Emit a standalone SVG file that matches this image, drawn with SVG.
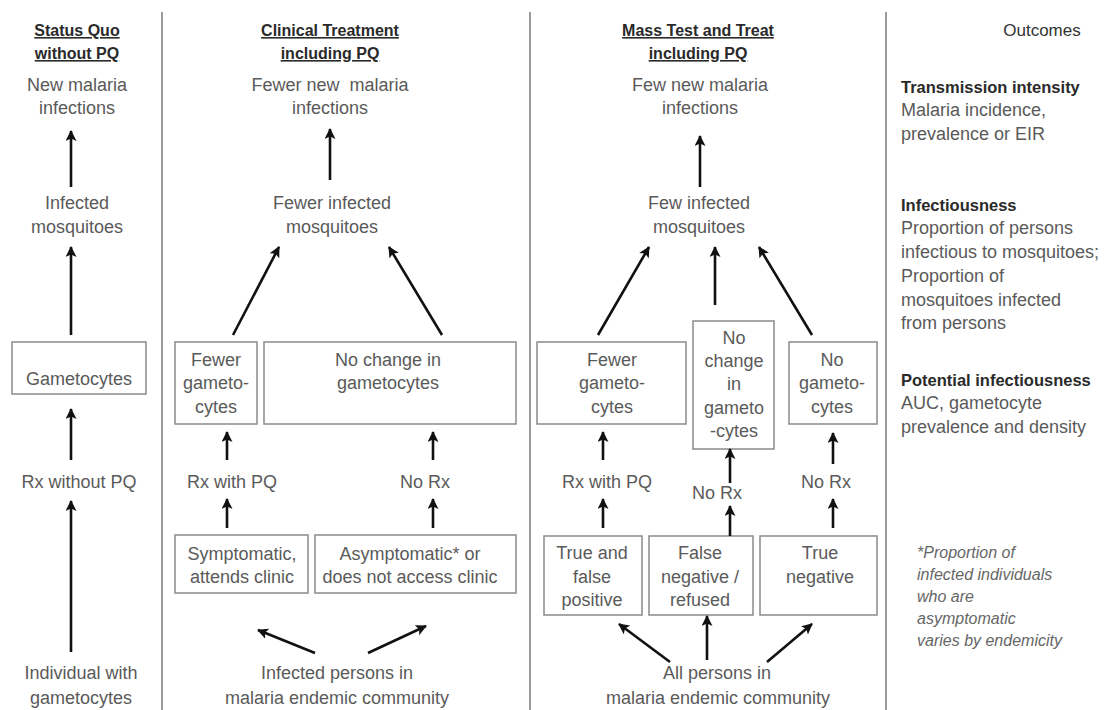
<svg xmlns="http://www.w3.org/2000/svg" width="1105" height="710" viewBox="0 0 1105 710">
<defs>
<marker id="ah" viewBox="0 0 11 11" refX="10" refY="5.5" markerWidth="11" markerHeight="11" markerUnits="userSpaceOnUse" orient="auto">
<path d="M0,0 L11,5.5 L0,11 L2.5,5.5 z" fill="#111"/>
</marker>
<style>
text{font-family:"Liberation Sans",Arial,sans-serif;font-size:18px;fill:#5a5a5a;}
.c{text-anchor:middle;}
.h{font-weight:bold;font-size:16px;fill:#2a2a2a;text-decoration:underline;}
.b{font-weight:bold;font-size:16.5px;fill:#2a2a2a;}
.o{font-size:17px;fill:#333;}
.i{font-style:italic;font-size:16px;fill:#666;}
.box{fill:#fff;stroke:#8a8a8a;stroke-width:1.5;}
.sep{stroke:#9a9a9a;stroke-width:2;}
.ar{stroke:#111;stroke-width:2.6;fill:none;marker-end:url(#ah);}
</style>
</defs>
<rect width="1105" height="710" fill="#fff"/>
<g id="separators">
<line class="sep" x1="162" y1="12" x2="162" y2="710"/>
<line class="sep" x1="530" y1="12" x2="530" y2="710"/>
<line class="sep" x1="886" y1="12" x2="886" y2="710"/>
</g>
<g id="headers">
<text class="h c" x="77" y="36">Status Quo</text>
<text class="h c" x="77" y="59">without PQ</text>
<text class="h c" x="330" y="36">Clinical Treatment</text>
<text class="h c" x="330" y="59">including PQ</text>
<text class="h c" x="698" y="36">Mass Test and Treat</text>
<text class="h c" x="698" y="59">including PQ</text>
<text class="o c" x="1042" y="36">Outcomes</text>
</g>
<g id="sq-new-infections"><text class="c" x="77" y="91">New malaria</text><text class="c" x="77" y="114">infections</text></g>
<g id="sq-infected-mosquitoes"><text class="c" x="77" y="209">Infected</text><text class="c" x="77" y="233">mosquitoes</text></g>
<g id="sq-gametocytes"><rect class="box" x="12" y="342" width="134" height="52"/><text class="c" x="79" y="385">Gametocytes</text></g>
<g id="sq-rx"><text class="c" x="79" y="488">Rx without PQ</text></g>
<g id="sq-individual"><text class="c" x="81" y="679">Individual with</text><text class="c" x="81" y="704">gametocytes</text></g>

<g id="ct-new-infections"><text class="c" x="330" y="91" xml:space="preserve">Fewer new  malaria</text><text class="c" x="330" y="114">infections</text></g>
<g id="ct-infected-mosquitoes"><text class="c" x="332" y="209">Fewer infected</text><text class="c" x="332" y="233">mosquitoes</text></g>
<g id="ct-fewer-gam"><rect class="box" x="175" y="342" width="82" height="82"/><text class="c" x="216" y="366">Fewer</text><text class="c" x="216" y="389">gameto-</text><text class="c" x="216" y="413">cytes</text></g>
<g id="ct-nochange-gam"><rect class="box" x="264" y="342" width="252" height="82"/><text class="c" x="388" y="366">No change in</text><text class="c" x="388" y="389">gametocytes</text></g>
<g id="ct-rx-pq"><text class="c" x="232" y="488">Rx with PQ</text></g>
<g id="ct-no-rx"><text class="c" x="425" y="488">No Rx</text></g>
<g id="ct-symptomatic"><rect class="box" x="175" y="535" width="133" height="58"/><text class="c" x="242" y="560">Symptomatic,</text><text class="c" x="242" y="583">attends clinic</text></g>
<g id="ct-asymptomatic"><rect class="box" x="315" y="535" width="201" height="58"/><text class="c" x="410" y="560">Asymptomatic* or</text><text class="c" x="410" y="583">does not access clinic</text></g>
<g id="ct-infected-persons"><text class="c" x="337" y="679">Infected persons in</text><text class="c" x="337" y="704">malaria endemic community</text></g>

<g id="mt-new-infections"><text class="c" x="700" y="91">Few new malaria</text><text class="c" x="700" y="114">infections</text></g>
<g id="mt-infected-mosquitoes"><text class="c" x="699" y="209">Few infected</text><text class="c" x="699" y="233">mosquitoes</text></g>
<g id="mt-fewer-gam"><rect class="box" x="537" y="342" width="149" height="82"/><text class="c" x="612" y="366">Fewer</text><text class="c" x="612" y="389">gameto-</text><text class="c" x="612" y="413">cytes</text></g>
<g id="mt-nochange-gam"><rect class="box" x="693" y="321" width="81" height="128"/><text class="c" x="734" y="344">No</text><text class="c" x="734" y="367">change</text><text class="c" x="734" y="390">in</text><text class="c" x="734" y="414">gameto</text><text class="c" x="734" y="437">-cytes</text></g>
<g id="mt-no-gam"><rect class="box" x="789" y="342" width="88" height="82"/><text class="c" x="832" y="366">No</text><text class="c" x="832" y="389">gameto-</text><text class="c" x="832" y="413">cytes</text></g>
<g id="mt-rx-pq"><text class="c" x="607" y="488">Rx with PQ</text></g>
<g id="mt-no-rx-1"><text class="c" x="717" y="499">No Rx</text></g>
<g id="mt-no-rx-2"><text class="c" x="826" y="488">No Rx</text></g>
<g id="mt-true-false-pos"><rect class="box" x="544" y="536" width="98" height="79"/><text class="c" x="592" y="559">True and</text><text class="c" x="592" y="583">false</text><text class="c" x="592" y="606">positive</text></g>
<g id="mt-false-neg"><rect class="box" x="649" y="536" width="104" height="79"/><text class="c" x="700" y="559">False</text><text class="c" x="700" y="583">negative /</text><text class="c" x="700" y="606">refused</text></g>
<g id="mt-true-neg"><rect class="box" x="760" y="536" width="117" height="79"/><text class="c" x="820" y="559">True</text><text class="c" x="820" y="583">negative</text></g>
<g id="mt-all-persons"><text class="c" x="717" y="679">All persons in</text><text class="c" x="718" y="704">malaria endemic community</text></g>

<g id="out-transmission"><text class="b" x="901" y="93">Transmission intensity</text><text x="901" y="116">Malaria incidence,</text><text x="901" y="140">prevalence or EIR</text></g>
<g id="out-infectiousness"><text class="b" x="901" y="211">Infectiousness</text><text x="901" y="234">Proportion of persons</text><text x="901" y="258">infectious to mosquitoes;</text><text x="901" y="282">Proportion of</text><text x="901" y="306">mosquitoes infected</text><text x="901" y="329">from persons</text></g>
<g id="out-potential"><text class="b" x="901" y="386">Potential infectiousness</text><text x="901" y="409">AUC, gametocyte</text><text x="901" y="433">prevalence and density</text></g>
<g id="footnote"><text class="i" x="917" y="558">*Proportion of</text><text class="i" x="917" y="580">infected individuals</text><text class="i" x="917" y="602">who are</text><text class="i" x="917" y="624">asymptomatic</text><text class="i" x="917" y="646">varies by endemicity</text></g>

<g id="connectors">
<line class="ar" x1="71" y1="187" x2="71" y2="131"/>
<line class="ar" x1="71" y1="335" x2="71" y2="247"/>
<line class="ar" x1="71" y1="460" x2="71" y2="409"/>
<line class="ar" x1="71" y1="652" x2="71" y2="501"/>

<line class="ar" x1="330" y1="180" x2="330" y2="129"/>
<line class="ar" x1="233" y1="335" x2="279" y2="247"/>
<line class="ar" x1="442" y1="335" x2="389" y2="247"/>
<line class="ar" x1="227" y1="460" x2="227" y2="432"/>
<line class="ar" x1="433" y1="460" x2="433" y2="432"/>
<line class="ar" x1="227" y1="528" x2="227" y2="499"/>
<line class="ar" x1="433" y1="528" x2="433" y2="499"/>
<line class="ar" x1="315" y1="653" x2="258" y2="630"/>
<line class="ar" x1="368" y1="653" x2="426" y2="626"/>

<line class="ar" x1="700" y1="187" x2="700" y2="136"/>
<line class="ar" x1="598" y1="335" x2="649" y2="247"/>
<line class="ar" x1="715" y1="305" x2="715" y2="247"/>
<line class="ar" x1="812" y1="335" x2="759" y2="247"/>
<line class="ar" x1="603" y1="460" x2="603" y2="432"/>
<line class="ar" x1="730" y1="483" x2="730" y2="449"/>
<line class="ar" x1="833" y1="464" x2="833" y2="433"/>
<line class="ar" x1="603" y1="528" x2="603" y2="499"/>
<line class="ar" x1="730" y1="536" x2="730" y2="506"/>
<line class="ar" x1="833" y1="528" x2="833" y2="499"/>
<line class="ar" x1="670" y1="662" x2="619" y2="624"/>
<line class="ar" x1="707" y1="660" x2="707" y2="616"/>
<line class="ar" x1="767" y1="662" x2="812" y2="624"/>
</g>
</svg>
